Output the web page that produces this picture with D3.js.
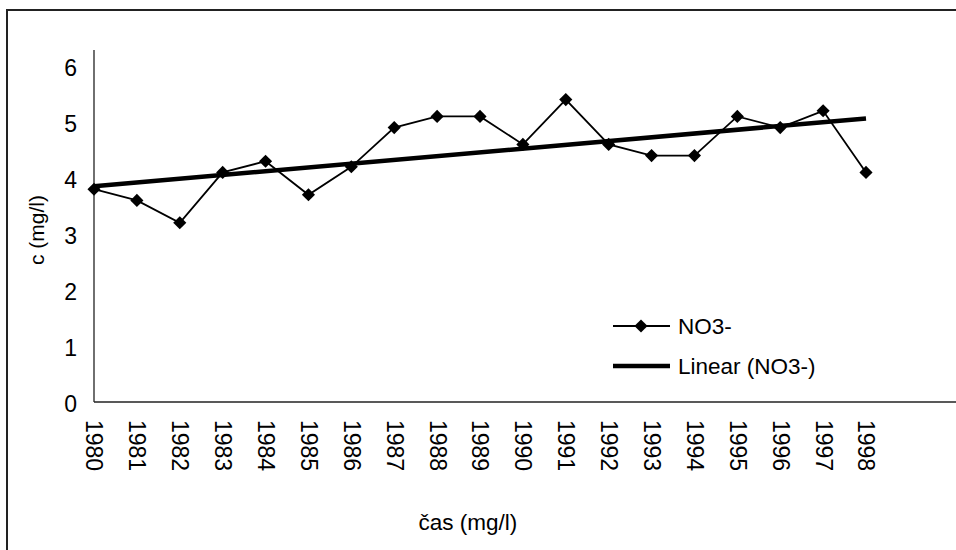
<!DOCTYPE html>
<html>
<head>
<meta charset="utf-8">
<script src="https://cdn.jsdelivr.net/npm/d3@7"></script>
<style>
  html, body { margin: 0; padding: 0; background: #fff; }
  svg { display: block; }
  text { font-family: "Liberation Sans", Arial, sans-serif; fill: #000; }
</style>
</head>
<body>
<svg id="chart" width="956" height="550"></svg>
<script>
// NO3- concentration by year
const years = [1980, 1981, 1982, 1983, 1984, 1985, 1986, 1987, 1988, 1989,
               1990, 1991, 1992, 1993, 1994, 1995, 1996, 1997, 1998];
const no3 = [3.8, 3.6, 3.2, 4.1, 4.3, 3.7, 4.2, 4.9, 5.1, 5.1,
             4.6, 5.4, 4.6, 4.4, 4.4, 5.1, 4.9, 5.2, 4.1];
const yTicks = [0, 1, 2, 3, 4, 5, 6];
const seriesName = "NO3-";
const trendName = "Linear (NO3-)";
const xTitle = "čas (mg/l)";
const yTitle = "c (mg/l)";

const FONT = "'Liberation Sans', Arial, sans-serif";
const svg = d3.select("#chart");

// outer chart frame
svg.append("path")
  .attr("d", "M7,551 L7,10 L960,10")
  .attr("fill", "none")
  .attr("stroke", "#222")
  .attr("stroke-width", 2);

const x = d3.scalePoint().domain(years).range([94, 866]);
const y = d3.scaleLinear().domain([0, 6]).range([402, 66]);

// axes lines
svg.append("line")
  .attr("x1", 94).attr("x2", 94)
  .attr("y1", 50).attr("y2", y(0))
  .attr("stroke", "#222").attr("stroke-width", 1.3);
svg.append("line")
  .attr("x1", 94).attr("x2", 956)
  .attr("y1", y(0)).attr("y2", y(0))
  .attr("stroke", "#222").attr("stroke-width", 1.3);

// y tick labels
const yAxis = d3.axisLeft(y).tickValues(yTicks).tickSize(0).tickPadding(17).tickFormat(d3.format("d"));
const gy = svg.append("g").attr("transform", "translate(94,2)").call(yAxis);
gy.select(".domain").remove();
gy.selectAll("text").style("font-size", "23px").style("font-family", FONT).attr("fill", "#000");

// x tick labels, rotated to read top to bottom
const xAxis = d3.axisBottom(x).tickSize(0).tickPadding(0).tickFormat(d3.format("d"));
const gx = svg.append("g").attr("transform", `translate(0,${y(0)})`).call(xAxis);
gx.select(".domain").remove();
gx.selectAll("text")
  .attr("transform", "translate(0,18) rotate(90)")
  .attr("x", 0).attr("y", 0).attr("dy", "0.35em")
  .style("text-anchor", "start")
  .style("font-size", "23px")
  .style("font-family", FONT)
  .attr("fill", "#000");

// least-squares trend line
const n = years.length;
const xs = years.map((d, i) => i);
const mx = d3.mean(xs), my = d3.mean(no3);
const slope = d3.sum(xs, (d, i) => (d - mx) * (no3[i] - my)) / d3.sum(xs, d => (d - mx) ** 2);
const icpt = my - slope * mx;
svg.append("line")
  .attr("x1", x(years[0])).attr("y1", y(icpt))
  .attr("x2", x(years[n - 1])).attr("y2", y(icpt + slope * (n - 1)))
  .attr("stroke", "#000").attr("stroke-width", 4.5);

// data series
const line = d3.line().x((d, i) => x(years[i])).y(d => y(d));
svg.append("path")
  .datum(no3)
  .attr("d", line)
  .attr("fill", "none")
  .attr("stroke", "#000")
  .attr("stroke-width", 1.8);

const diamond = d3.symbol().type(d3.symbolDiamond2).size(110);
svg.selectAll(".pt").data(no3).join("path")
  .attr("class", "pt")
  .attr("d", diamond)
  .attr("transform", (d, i) => `translate(${x(years[i])},${y(d)})`)
  .attr("fill", "#000");

// legend
const lg = svg.append("g");
lg.append("line").attr("x1", 613).attr("x2", 670).attr("y1", 326).attr("y2", 326)
  .attr("stroke", "#000").attr("stroke-width", 1.8);
lg.append("path").attr("d", diamond).attr("transform", "translate(641,326)").attr("fill", "#000");
lg.append("text").attr("x", 678).attr("y", 326).attr("dy", "0.35em")
  .style("font-size", "22.5px").text(seriesName);
lg.append("line").attr("x1", 613).attr("x2", 670).attr("y1", 366).attr("y2", 366)
  .attr("stroke", "#000").attr("stroke-width", 4.5);
lg.append("text").attr("x", 678).attr("y", 366).attr("dy", "0.35em")
  .style("font-size", "22.5px").text(trendName);

// axis titles
svg.append("text")
  .attr("transform", "translate(37,230) rotate(-90)")
  .attr("text-anchor", "middle").attr("dy", "0.35em")
  .style("font-size", "21px").text(yTitle);
svg.append("text")
  .attr("x", 468).attr("y", 530)
  .attr("text-anchor", "middle")
  .style("font-size", "22.5px").text(xTitle);
</script>
</body>
</html>
